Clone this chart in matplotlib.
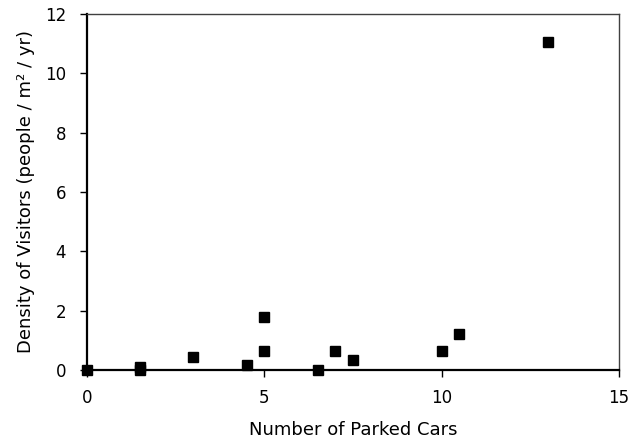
import matplotlib
matplotlib.use("Agg")
import matplotlib.pyplot as plt

# parked cars vs. visitor density
parked_cars = [0, 1.5, 1.5, 3, 4.5, 5, 5, 6.5, 7, 7.5, 10, 10.5, 13]
visitor_density = [0, 0.1, 0.0, 0.45, 0.18, 1.78, 0.64, 0.0, 0.64, 0.33, 0.64, 1.21, 11.05]

x_ticks = [0, 5, 10, 15]
y_ticks = [0, 2, 4, 6, 8, 10, 12]

fig = plt.figure(figsize=(6.35, 4.48), dpi=100)
ax = fig.add_axes([0.137, 0.174, 0.838, 0.795])

ax.plot(parked_cars, visitor_density, linestyle="none", marker="s",
        markersize=6.5, color="black", clip_on=False, zorder=3)

ax.set_xlim(0, 15)
ax.set_ylim(0, 12)
ax.set_xticks(x_ticks)
ax.set_yticks(y_ticks)
ax.tick_params(direction="out", length=5, width=1, labelsize=12, colors="black")
ax.tick_params(axis="x", pad=9)
ax.tick_params(axis="y", pad=10)

for side in ("left", "bottom"):
    ax.spines[side].set_linewidth(1.6)
for side in ("top", "right"):
    ax.spines[side].set_linewidth(1.0)
    ax.spines[side].set_color("#404040")

ax.set_xlabel("Number of Parked Cars", fontsize=13)
ax.set_ylabel("Density of Visitors (people / m² / yr)", fontsize=13)
ax.xaxis.set_label_coords(0.5, -0.143)
ax.yaxis.set_label_coords(-0.098, 0.5)

fig.savefig("out.png", dpi=100)
